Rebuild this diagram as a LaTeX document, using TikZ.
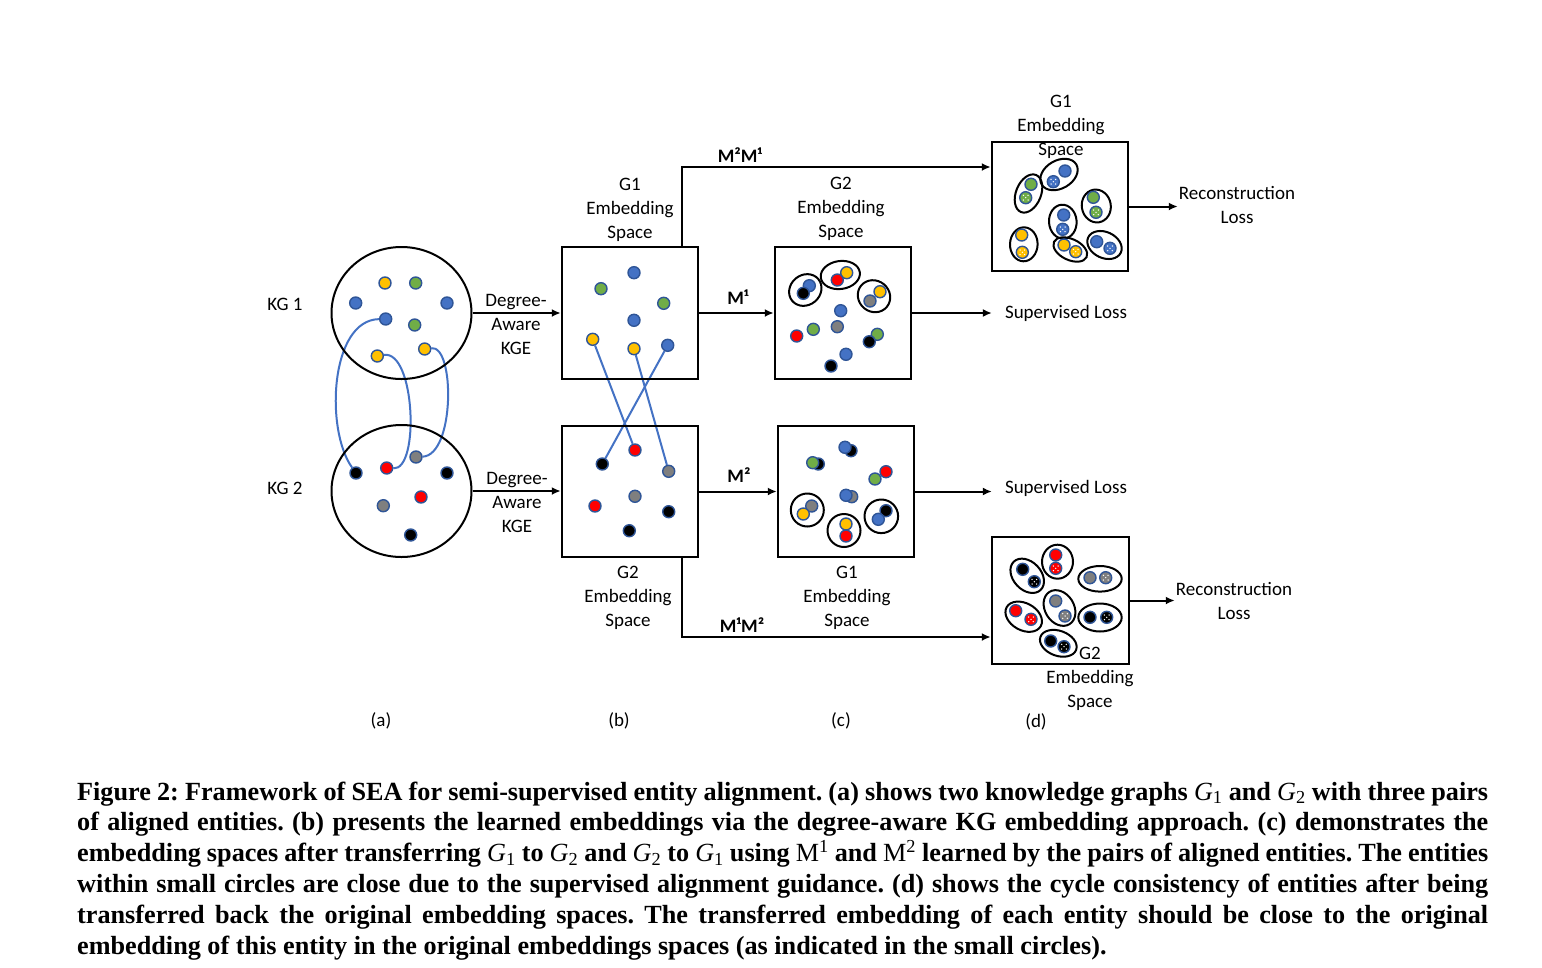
\documentclass[tikz,border=0pt]{standalone}
\usepackage{fontspec}
\setmainfont{Carlito}
\newfontfamily\capfont{Liberation Serif}
\usetikzlibrary{arrows.meta,shapes.geometric,backgrounds}
\definecolor{dblue}{HTML}{4472C4}
\definecolor{ringc}{HTML}{2F5597}
\definecolor{dyel}{HTML}{FFC000}
\definecolor{dgrn}{HTML}{70AD47}
\definecolor{dgry}{HTML}{7F7F7F}
\definecolor{dred}{HTML}{FF0000}
\definecolor{dblk}{HTML}{000000}
\newcommand\ent[4]{\node[ent, fill=#4] (#1) at (#2,#3) {};}
\newcommand\pent[4]{\node[ent, fill=#4, path picture={%
  \foreach \dx/\dy in {0/0,2.3/2.3,-2.3/2.3,2.3/-2.3,-2.3/-2.3}{%
    \fill[white] ([shift={(\dx,\dy)}]path picture bounding box.center) circle (0.75);}}] (#1) at (#2,#3) {};}
\newcommand\grpE[5]{\draw[grp, rotate around={#5:(#1,#2)}] (#1,#2) ellipse [x radius=#3, y radius=#4];}
\newcommand\Gs[1]{{\mdseries\itshape G}\textsubscript{\mdseries #1}}
\begin{document}
\begin{tikzpicture}[x=1pt,y=-1pt,
  ent/.style={circle, minimum size=12pt, inner sep=0pt, draw=ringc, line width=1.4pt},
  lbl/.style={font=\fontsize{19}{24}\selectfont, align=center, inner sep=0pt},
  mlbl/.style={font=\fontsize{19}{24}\selectfont\bfseries, inner sep=0pt},
  losslbl/.style={lbl, inner xsep=13pt},
  reclbl/.style={lbl, inner xsep=1pt},
  kg/.style={ellipse, draw, line width=2pt, minimum width=140pt, minimum height=132pt, inner sep=0pt},
  embbox/.style={draw, line width=2.5pt, minimum width=136pt, minimum height=131pt, inner sep=0pt},
  arr/.style={line width=2pt, -{Latex[length=9pt,width=8pt]}},
  link/.style={dblue, line width=2pt},
  grp/.style={draw, line width=2pt},
]
\useasboundingbox (0,0) rectangle (1542,967);
\begin{pgfonlayer}{background}
\fill[white] (0,0) rectangle (1542,967);
\end{pgfonlayer}

% ---------- (a) knowledge graphs
\node[kg] (kg1) at (401.5,313) {};
\node[kg] (kg2) at (401.5,491) {};
\node[lbl] (kgl1) at (285,304) {KG 1};
\node[lbl] (kgl2) at (285,488) {KG 2};
\ent{a1}{385}{283}{dyel}
\ent{a2}{415.7}{283}{dgrn}
\ent{a3}{355.7}{303}{dblue}
\ent{a4}{447}{303}{dblue}
\ent{a5}{385.7}{319}{dblue}
\ent{a6}{414.7}{325}{dgrn}
\ent{a7}{377.3}{356}{dyel}
\ent{a8}{424.7}{349}{dyel}
\ent{e1}{356}{473}{dblk}
\ent{e2}{386.7}{468}{dred}
\ent{e3}{416}{457}{dgry}
\ent{e4}{447}{473}{dblk}
\ent{e5}{421}{497}{dred}
\ent{e6}{383.3}{505.7}{dgry}
\ent{e7}{410.7}{535}{dblk}

% ---------- (b) embedding spaces
\node[embbox, minimum height=132pt] (b1) at (630,313) {};
\node[embbox] (b2) at (630,491.5) {};
\ent{p1}{634}{272.7}{dblue}
\ent{p2}{601}{288.7}{dgrn}
\ent{p3}{663.7}{303.3}{dgrn}
\ent{p4}{634}{320.3}{dblue}
\ent{p5}{592.7}{339.3}{dyel}
\ent{p6}{634}{348.7}{dyel}
\ent{p7}{667.7}{345.3}{dblue}
\ent{q1}{635}{450}{dred}
\ent{q2}{602.3}{464}{dblk}
\ent{q3}{668.7}{471.3}{dgry}
\ent{q4}{635}{496.3}{dgry}
\ent{q5}{595}{506}{dred}
\ent{q6}{668.7}{511.7}{dblk}
\ent{q7}{629.3}{530.7}{dblk}

\node[lbl] (lb1) at (630,210) {G1\\Embedding\\Space};
\node[lbl] (lb2) at (628,598) {G2\\Embedding\\Space};

% ---------- (c) transferred spaces
\node[embbox, minimum height=132pt] (c1) at (843,313) {};
\node[embbox] (c2) at (846,491.5) {};
\grpE{805.3}{290}{17}{15}{40}
\grpE{840.3}{275}{19.7}{14}{8}
\grpE{874}{296.2}{16.7}{15.5}{-40}
\ent{r1}{809.3}{285.7}{dblue}
\ent{r2}{803.3}{293.3}{dblk}
\ent{r3}{846.7}{272.7}{dyel}
\ent{r4}{837.3}{280}{dred}
\ent{r5}{880}{291.7}{dyel}
\ent{r6}{870}{301}{dgry}
\ent{r7}{840.7}{310.7}{dblue}
\ent{r8}{837.3}{326.7}{dgry}
\ent{r9}{796.7}{336}{dred}
\ent{r10}{813.3}{329.3}{dgrn}
\ent{r11}{877.3}{334.3}{dgrn}
\ent{r12}{869.3}{341.7}{dblk}
\ent{r13}{846}{354.3}{dblue}
\ent{r14}{831}{366}{dblk}

\grpE{807.3}{510}{16.5}{16.5}{0}
\grpE{844}{530.5}{16.5}{16.5}{0}
\grpE{881.3}{516.3}{16.8}{16.8}{0}
\ent{s1}{851}{450.7}{dblk}
\ent{s2}{845}{447.3}{dblue}
\ent{s3}{818.3}{464}{dblk}
\ent{s4}{812.7}{462.7}{dgrn}
\ent{s6}{886}{471.7}{dred}
\ent{s5}{875}{479}{dgrn}
\ent{s7}{851.7}{496.7}{dgry}
\ent{s8}{846}{495.3}{dblue}
\ent{s9}{811.7}{506}{dgry}
\ent{s10}{803.3}{514}{dyel}
\ent{s11}{846}{524}{dyel}
\ent{s12}{846}{536}{dred}
\ent{s13}{886}{510.7}{dblk}
\ent{s14}{878.3}{519.3}{dblue}

\node[lbl] (lc1) at (841,209) {G2\\Embedding\\Space};
\node[lbl] (lc2) at (847,598) {G1\\Embedding\\Space};

% ---------- (d) back-transferred spaces
\node[embbox, minimum height=129pt] (d1) at (1060,206.5) {};
\node[embbox, minimum width=137pt, minimum height=127pt] (d2) at (1060.5,600.5) {};
\grpE{1028.5}{193.5}{20}{12.5}{68}
\grpE{1059}{174.5}{20}{14}{30}
\grpE{1096.3}{206}{16.5}{14.5}{100}
\grpE{1062.8}{221.7}{17}{13.8}{94}
\grpE{1023.8}{244.3}{17}{13.8}{88}
\grpE{1070.3}{249.5}{18}{10.5}{-25}
\grpE{1104.5}{245}{18}{13}{-25}
\ent{u1}{1031}{184.3}{dgrn}
\pent{u2}{1025.7}{197.7}{dgrn}
\ent{u3}{1065}{171}{dblue}
\pent{u4}{1053.3}{181.7}{dblue}
\ent{u5}{1093.3}{197.3}{dgrn}
\pent{u6}{1096}{212.3}{dgrn}
\ent{u7}{1063.7}{215}{dblue}
\pent{u8}{1062.7}{229.3}{dblue}
\ent{u9}{1021.7}{235}{dyel}
\pent{u10}{1022.3}{252.3}{dyel}
\ent{u11}{1064}{245}{dyel}
\pent{u12}{1075.7}{251.7}{dyel}
\ent{u13}{1096.7}{241.7}{dblue}
\pent{u14}{1110}{248.3}{dblue}

\grpE{1027.2}{575.8}{19.5}{14}{-47}
\grpE{1057.5}{561.7}{17}{15.5}{90}
\grpE{1100}{578.8}{21.7}{12.8}{0}
\grpE{1023.7}{616.7}{19.5}{13.5}{-29}
\grpE{1059.5}{608}{19}{14.5}{-58}
\grpE{1100}{617.5}{21.7}{14}{0}
\grpE{1058.3}{643.3}{19}{12.5}{-20}
\ent{w1}{1022.7}{569.3}{dblk}
\pent{w2}{1034.3}{581.7}{dblk}
\ent{w3}{1055.7}{555}{dred}
\pent{w4}{1055.7}{568.3}{dred}
\ent{w5}{1090}{577.7}{dgry}
\pent{w6}{1105.7}{577.7}{dgry}
\ent{w7}{1015.7}{610.7}{dred}
\pent{w8}{1031}{619.3}{dred}
\ent{w9}{1055.7}{601}{dgry}
\pent{w10}{1065}{616}{dgry}
\ent{w11}{1090}{617.3}{dblk}
\pent{w12}{1106.7}{617.3}{dblk}
\ent{w13}{1050.7}{641}{dblk}
\pent{w14}{1064}{646.7}{dblk}

\node[lbl] (ld1) at (1061,127) {G1\\Embedding\\Space};
\node[lbl] (ld2) at (1090,679) {G2\\Embedding\\Space};

% ---------- connectors
\node[lbl] (dg1) at (516,324.5) {Degree-\\Aware\\KGE};
\node[lbl] (dg2) at (517,502.5) {Degree-\\Aware\\KGE};
\draw[arr] (kg1.east) -- (kg1.east -| b1.west);
\draw[arr] (kg2.east) -- (kg2.east -| b2.west);

\draw[arr] (b1.east) -- (b1.east -| c1.west);
\node[mlbl] (m1) at (738,297) {M¹};
\draw[arr] (b2.east) -- (b2.east -| c2.west);
\node[mlbl] (m2) at (739,475) {M²};

\coordinate (j1) at (682,0);
\coordinate (j2) at (0,167);
\coordinate (j3) at (0,637);
\draw[arr] (b1.north -| j1) |- (d1.west |- j2);
\node[mlbl] (m21) at (740,155) {M²M¹};
\draw[arr] (b2.south -| j1) |- (d2.west |- j3);
\node[mlbl] (m12) at (742,625) {M¹M²};

\node[losslbl] (sl1) at (1066,313) {Supervised Loss};
\node[losslbl] (sl2) at (1066,488) {Supervised Loss};
\draw[arr] (c1.east) -- (c1.east -| sl1.west);
\draw[arr] (c2.east) -- (c2.east -| sl2.west);

\node[reclbl] (rl1) at (1237,205) {Reconstruction\\Loss};
\node[reclbl] (rl2) at (1234,600.5) {Reconstruction\\Loss};
\draw[arr] (d1.east) -- (d1.east -| rl1.west);
\draw[arr] (d2.east) -- (d2.east -| rl2.west);

% ---------- alignment links
\begin{pgfonlayer}{background}
\draw[link] (a5) .. controls (330,320) and (325,430) .. (e1);
\draw[link] (a7) .. controls (415,350) and (420,470) .. (e2);
\draw[link] (a8) .. controls (455,345) and (455,455) .. (e3);
\draw[link] (p5) -- (q1);
\draw[link] (p6) -- (q3);
\draw[link] (p7) -- (q2);
\end{pgfonlayer}

% ---------- sub labels
\node[lbl] (sa) at (381,721) {(a)};
\node[lbl] (sb) at (619,721) {(b)};
\node[lbl] (sc) at (841,721) {(c)};
\node[lbl] (sd) at (1036,722) {(d)};

% ---------- caption
\node[anchor=base west, inner sep=0pt] (cap) at (77,954) {\capfont\bfseries\frenchspacing\fontsize{26.2}{30.8}\selectfont\vbox{%
\hbox to 1411pt{Figure 2: Framework of SEA for semi-supervised entity alignment. (a) shows two knowledge graphs \Gs1 and \Gs2 with three pairs}
\hbox to 1411pt{of aligned entities. (b) presents the learned embeddings via the degree-aware KG embedding approach. (c) demonstrates the}
\hbox to 1411pt{embedding spaces after transferring \Gs1 to \Gs2 and \Gs2 to \Gs1 using {\mdseries M\textsuperscript{1}} and {\mdseries M\textsuperscript{2}} learned by the pairs of aligned entities. The entities}
\hbox to 1411pt{within small circles are close due to the supervised alignment guidance. (d) shows the cycle consistency of entities after being}
\hbox to 1411pt{transferred back the original embedding spaces. The transferred embedding of each entity should be close to the original}
\hbox{embedding of this entity in the original embeddings spaces (as indicated in the small circles).}}};
\end{tikzpicture}
\end{document}
